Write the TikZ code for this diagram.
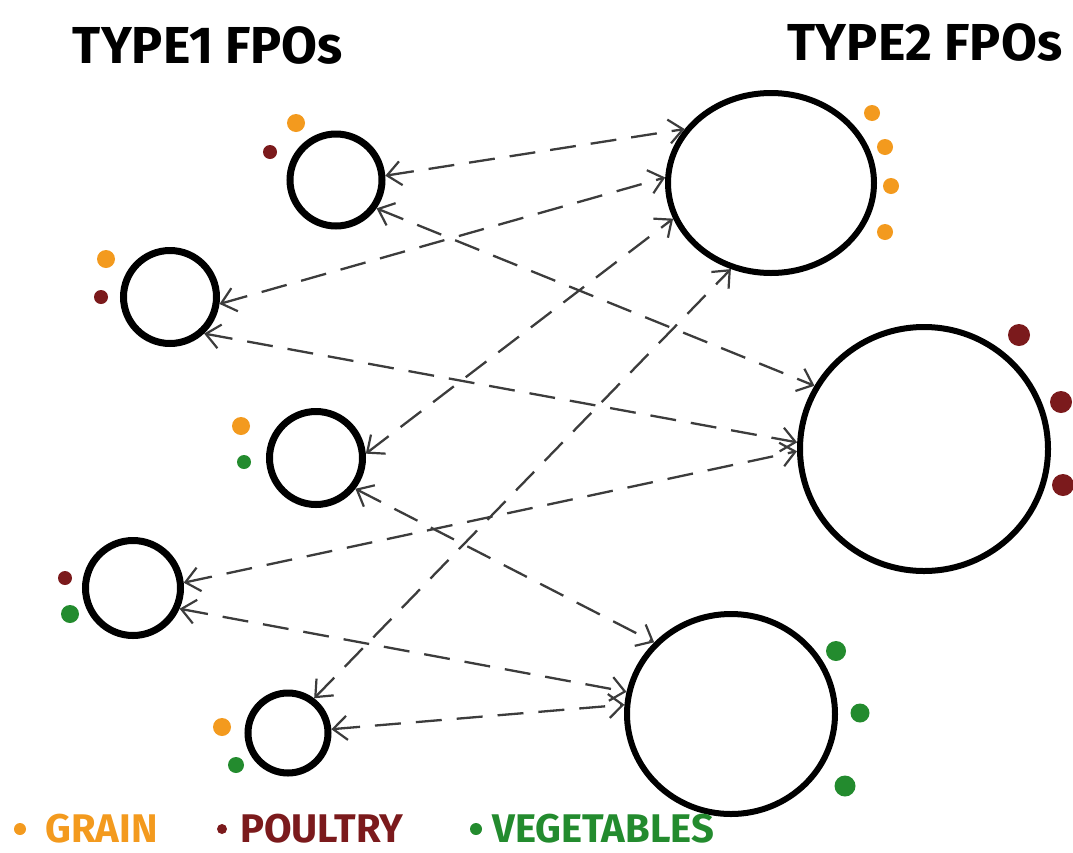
\documentclass[tikz,border=0pt]{standalone}
\usepackage{fontspec}
\setmainfont{Fira Sans}
\usetikzlibrary{arrows.meta,shapes.geometric}
\definecolor{grain}{HTML}{F39A1E}
\definecolor{poultry}{HTML}{7B1A1C}
\definecolor{veg}{HTML}{238B2E}
\definecolor{dash}{HTML}{3C3C3C}
\tikzset{
  small/.style={circle,draw=black,line width=7pt,inner sep=0pt,minimum size=#1},
  big/.style={ellipse,draw=black,line width=6pt,inner sep=0pt},
  conn/.style={draw=dash,line width=2.3pt,dash pattern=on 26pt off 15pt,
    {Straight Barb[length=14pt,width=24pt,line width=2.2pt]}-{Straight Barb[length=14pt,width=24pt,line width=2.2pt]}},
  dot/.style={circle,fill=#1,inner sep=0pt,minimum size=18pt},
  sdot/.style={circle,fill=#1,inner sep=0pt,minimum size=14pt},
  ttl/.style={font=\fontsize{52}{52}\selectfont\bfseries,text=black,inner sep=0pt},
  leg/.style={font=\fontsize{40}{40}\selectfont\bfseries,inner sep=0pt,anchor=west},
}
\begin{document}
\begin{tikzpicture}[x=1pt,y=-1pt]
\useasboundingbox (0,0) rectangle (1073,852);
% titles
\node[ttl] (t1) at (208,45) {TYPE1 FPOs};
\node[ttl] (t2) at (925,42) {TYPE2 FPOs};
% type 1 circles
\node[small=92pt] (a1) at (336,180) {};
\node[small=93pt] (a2) at (170,297) {};
\node[small=93pt] (a3) at (316,458) {};
\node[small=95pt] (a4) at (133,588) {};
\node[small=80pt] (a5) at (288,733) {};
% type 2 circles
\node[big,minimum width=206pt,minimum height=180pt] (b1) at (771,183) {};
\node[big,minimum width=248pt,minimum height=244pt] (b2) at (924,449) {};
\node[big,minimum width=208pt,minimum height=200pt] (b3) at (731,714) {};
% dots type 1
\node[dot=grain] (d1) at (296,123) {};
\node[sdot=poultry] (d2) at (270,152) {};
\node[dot=grain] (d3) at (106,259) {};
\node[sdot=poultry] (d4) at (101,297) {};
\node[dot=grain] (d5) at (241,426) {};
\node[sdot=veg] (d6) at (244,462) {};
\node[sdot=poultry] (d7) at (65,578) {};
\node[dot=veg] (d8) at (70,614) {};
\node[dot=grain] (d9) at (222,727) {};
\node[dot=veg,minimum size=16pt] (d10) at (236,765) {};
% dots type 2
\node[dot=grain,minimum size=16pt] (e1) at (872,113) {};
\node[dot=grain,minimum size=16pt] (e2) at (885,147) {};
\node[dot=grain,minimum size=16pt] (e3) at (891,186) {};
\node[dot=grain,minimum size=16pt] (e4) at (885,232) {};
\node[dot=poultry,minimum size=22pt] (e5) at (1019,335) {};
\node[dot=poultry,minimum size=22pt] (e6) at (1061,402) {};
\node[dot=poultry,minimum size=22pt] (e7) at (1063,485) {};
\node[dot=veg,minimum size=20pt] (e8) at (836,651) {};
\node[dot=veg,minimum size=19pt] (e9) at (860,713) {};
\node[dot=veg,minimum size=21pt] (e10) at (845,786) {};
% connectors
\draw[conn] (a1.5) -- (b1.148);
\draw[conn] (a2.-8) -- (b1.177);
\draw[conn] (a1.-35) -- (b2.150);
\draw[conn] (a2.-47) -- (b2.177);
\draw[conn] (a3.5) -- (b1.200);
\draw[conn] (a3.-38) -- (b3.137);
\draw[conn] (a4.6) -- (b2.181);
\draw[conn] (a4.-24) -- (b3.168);
\draw[conn] (a5.53) -- (b1.245);
\draw[conn] (a5.5) -- (b3.175);
% legend
\node[sdot=grain,minimum size=12pt] (l1) at (20,829) {};
\node[leg,text=grain] (lt1) at (45,829) {GRAIN};
\node[sdot=poultry,minimum size=10pt] (l2) at (222,829) {};
\node[leg,text=poultry] (lt2) at (240,829) {POULTRY};
\node[sdot=veg,minimum size=12pt] (l3) at (476,829) {};
\node[leg,text=veg] (lt3) at (492,829) {VEGETABLES};
\end{tikzpicture}
\end{document}
